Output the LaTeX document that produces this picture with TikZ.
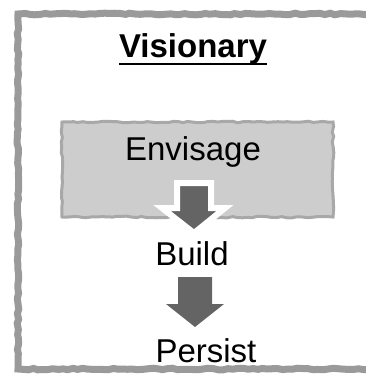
\documentclass[tikz,border=0pt]{standalone}
\usepackage{fontspec}
\setmainfont{Liberation Sans}
\usetikzlibrary{calc, positioning, decorations.pathmorphing}
\definecolor{vsframe}{HTML}{9A9A9A}
\definecolor{vsbox}{HTML}{CDCDCD}
\definecolor{vsboxedge}{HTML}{A8A8A8}
\definecolor{vsarrow}{HTML}{646464}
\begin{document}
\begin{tikzpicture}[x=1pt, y=-1pt,
    rough/.style={decorate, decoration={random steps, segment length=5pt, amplitude=0.8pt}},
    word/.style={inner sep=0pt, anchor=base, font=\fontsize{33}{38}\selectfont},
    blockarrow/.style={fill=vsarrow, draw=white, line width=6pt, line join=miter}]
                        \useasboundingbox (0,0) rectangle (366,376);
                        % frame, running off on the right
                        \draw[vsframe, line width=7pt, rough] (380,14) -- (18,14) -- (18,369) -- (380,369);

                        % title
                        \node[word, font=\fontsize{33}{38}\selectfont\bfseries] (title) at (193,57) {Visionary};
                        \draw[line width=2pt] ([yshift=-7pt]title.base west) -- ([yshift=-7pt]title.base east);

                        % shaded step
                        \node[fill=vsbox, draw=vsboxedge, line width=3pt, rough, inner sep=0pt,
                              minimum width=271pt, minimum height=95pt] (envbox) at (197.5,169.5) {};
                        \node[word] (envisage) at (193,160) {Envisage};

                        \node[word] (build) at (192,265) {Build};
                        \node[word] (persist) at (206,362) {Persist};

                        % down arrows
                        \coordinate (a1) at (194,183);
                        \coordinate (a2) at (195,277);
                        \filldraw[blockarrow] (a1) ++(-17,0) -- ++(34,0) -- ++(0,25) -- ++(14,0)
                            -- ($(a1)+(0,50)$) -- ++(-32,-25) -- ++(15,0) -- cycle;
                        \filldraw[blockarrow, draw=none] (a2) ++(-17,0) -- ++(34,0) -- ++(0,27) -- ++(12,0)
                            -- ($(a2)+(0,50)$) -- ++(-29,-23) -- ++(12,0) -- cycle;
                    \end{tikzpicture}
\end{document}
